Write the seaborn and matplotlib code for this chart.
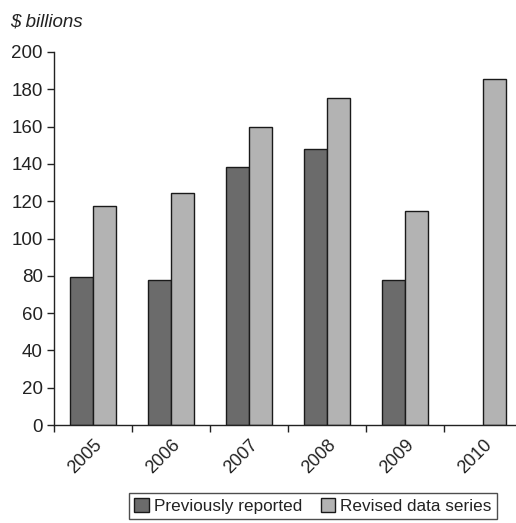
import matplotlib
matplotlib.use("Agg")
import matplotlib.pyplot as plt
import pandas as pd
import seaborn as sns
from matplotlib.ticker import MultipleLocator, FixedLocator

# Valores
years = ["2005", "2006", "2007", "2008", "2009", "2010"]
previously_reported = [79.5, 78, 138.5, 148, 78, None]
revised_series = [117.5, 124.5, 160, 175.5, 114.5, 185.5]
series_names = ["Previously reported", "Revised data series"]

df = pd.DataFrame({
    "year": years * 2,
    "value": previously_reported + revised_series,
    "series": [series_names[0]] * len(years) + [series_names[1]] * len(years),
})

sns.set_style("ticks")
plt.rcParams["font.family"] = ["Liberation Sans", "DejaVu Sans"]

fig = plt.figure(figsize=(5.16, 5.23), dpi=100)
W, H = 516, 523
ax = fig.add_axes([54 / W, (H - 425) / H, 468 / W, (425 - 52) / H])

sns.barplot(data=df, x="year", y="value", hue="series", order=years,
            hue_order=series_names, palette=["#6b6b6b", "#b3b3b3"],
            width=0.6, edgecolor="#1a1a1a", linewidth=1.0, ax=ax)

ax.set_ylim(0, 200)
ax.set_xlim(-0.5, 5.5)
ax.yaxis.set_major_locator(MultipleLocator(20))
ax.set_xlabel("")
ax.set_ylabel("")
sns.despine(ax=ax)
for s in ["left", "bottom"]:
    ax.spines[s].set_color("#222222")
    ax.spines[s].set_linewidth(1.0)

# marcas do eixo x nos limites entre categorias
ax.xaxis.set_minor_locator(FixedLocator([i - 0.5 for i in range(7)]))
ax.tick_params(axis="x", which="major", length=0, pad=8)
ax.tick_params(axis="x", which="minor", length=5, width=1, color="#222222")
ax.tick_params(axis="y", length=5, width=1, color="#222222", labelsize=13.5,
               labelcolor="#222222", pad=3)
for lbl in ax.get_xticklabels():
    lbl.set_rotation(45)
    lbl.set_ha("right")
    lbl.set_rotation_mode("anchor")
    lbl.set_fontsize(13)
    lbl.set_color("#222222")

fig.text(10 / W, 1 - 22 / H, "$ billions", fontsize=13.5, style="italic",
         color="#222222", va="center", ha="left")

ax.legend_.remove()
handles, labels = ax.get_legend_handles_labels()
leg = fig.legend(handles, labels, ncol=2, loc="center",
                 bbox_to_anchor=(313 / W, 1 - 506 / H), frameon=True,
                 fancybox=False, fontsize=12.3, handlelength=0.85,
                 handleheight=0.85, handletextpad=0.3, columnspacing=1.1,
                 borderpad=0.3, borderaxespad=0)
leg.get_frame().set_edgecolor("#222222")
leg.get_frame().set_linewidth(1.0)
for t in leg.get_texts():
    t.set_color("#222222")

fig.savefig("out.png", dpi=100)
